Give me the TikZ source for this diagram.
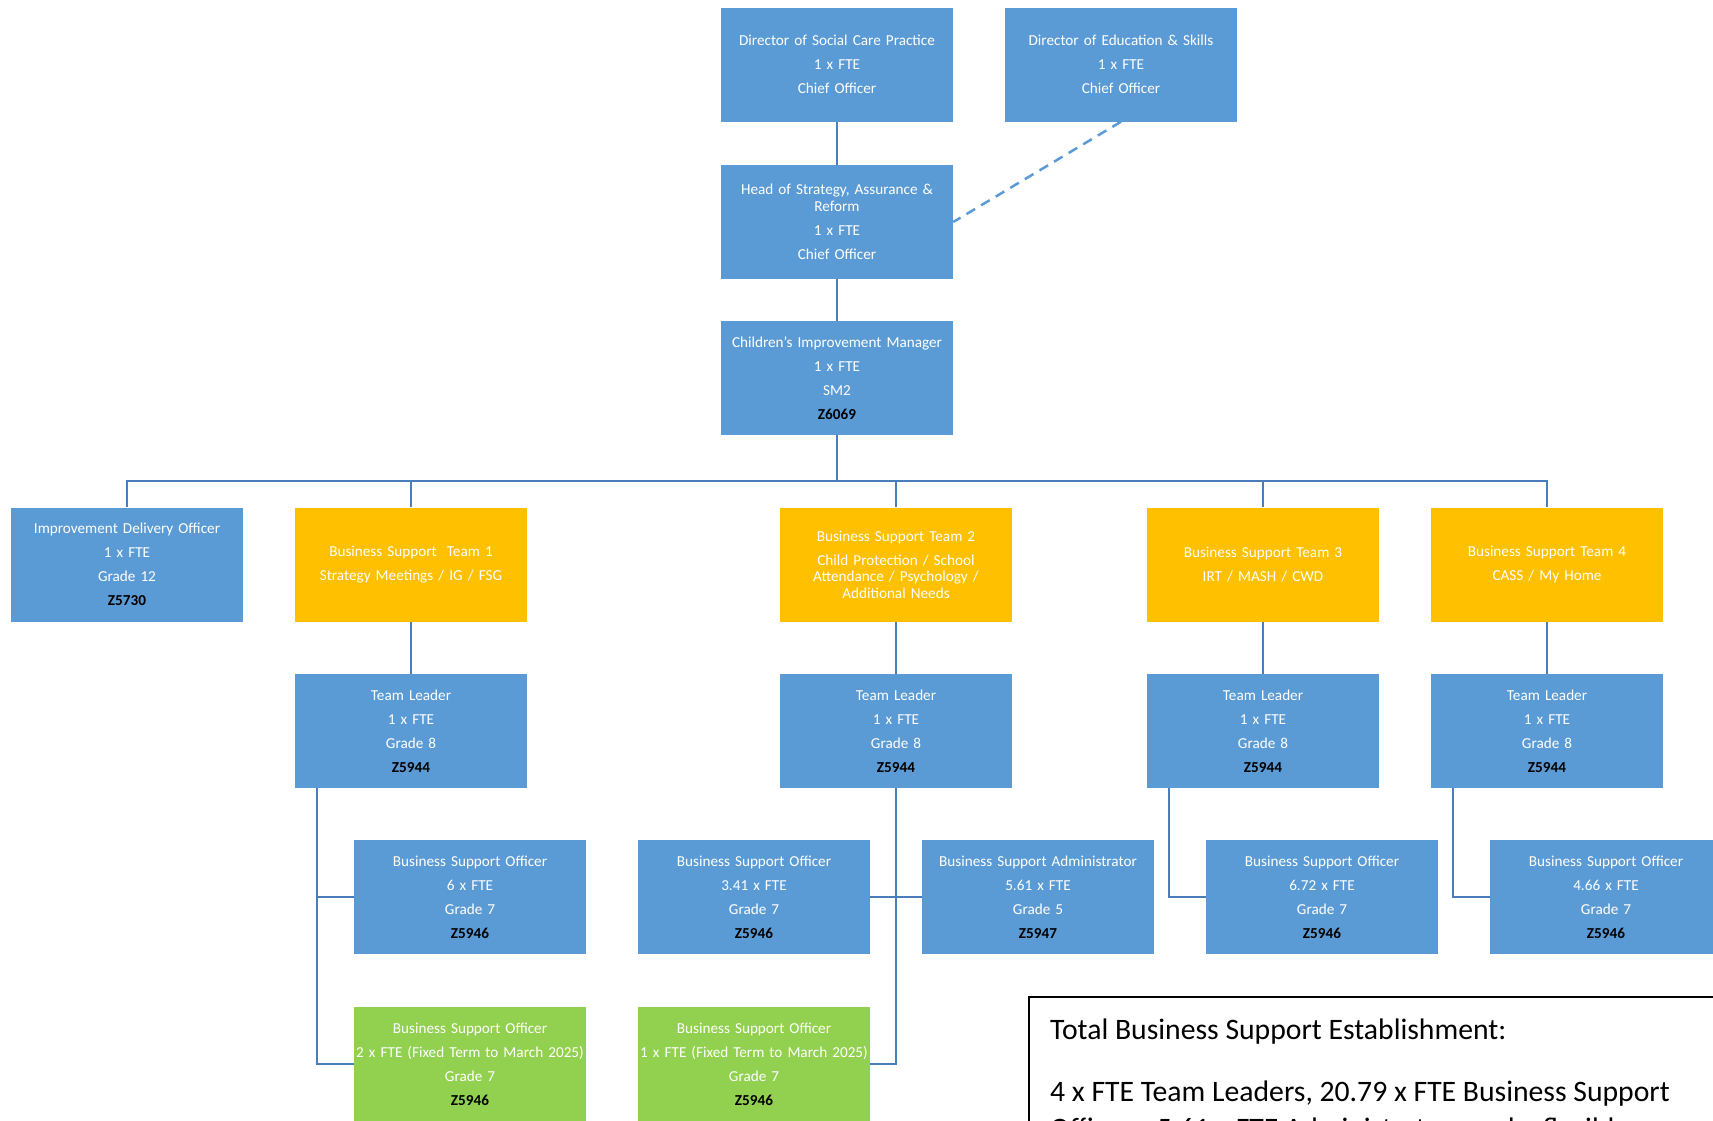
\documentclass[tikz,border=0pt]{standalone}
\usepackage{fontspec}
\setmainfont{Carlito}
\definecolor{boxblue}{HTML}{5B9BD5}
\definecolor{teamgold}{HTML}{FFC000}
\definecolor{tempgreen}{HTML}{92D050}
\definecolor{linkblue}{HTML}{4A7EBB}
\newcommand{\zcode}[1]{\textcolor{black}{\textbf{#1}}}

\begin{document}
\begin{tikzpicture}[x=1pt, y=-1pt,
  box/.style={rectangle, fill=boxblue, text=white, minimum width=232pt, minimum height=114pt,
    text width=232pt, inner sep=0pt, align=center, font=\fontsize{15.2}{16.5}\selectfont},
  team/.style={box, fill=teamgold},
  temp/.style={box, fill=tempgreen},
  link/.style={draw=linkblue, line width=2.5pt},
  totaltext/.style={anchor=base west, inner sep=0pt, font=\fontsize{29.7}{36}\selectfont}]
  \useasboundingbox (0, 0) rectangle (1713, 1120);
  \clip (0, 0) rectangle (1713, 1120);

  % top of the chart
  \node[box] (dsc) at (837, 64.5) {Director of Social Care Practice\\[7.5pt]1 x FTE\\[7.5pt]Chief Officer};
  \node[box] (doe) at (1121, 64.5) {Director of Education \& Skills\\[7.5pt]1 x FTE\\[7.5pt]Chief Officer};
  \node[box] (head) at (837, 222) {Head of Strategy, Assurance \&\\Reform\\[7.5pt]1 x FTE\\[7.5pt]Chief Officer};
  \node[box] (cim) at (837, 378) {Children's Improvement Manager\\[7.5pt]1 x FTE\\[7.5pt]SM2\\[7.5pt]\zcode{Z6069}};

  % teams
  \node[box] (ido) at (127, 564.5) {Improvement Delivery Officer\\[7.5pt]1 x FTE\\[7.5pt]Grade 12\\[7.5pt]\zcode{Z5730}};
  \node[team] (bst1) at (411, 564.5) {Business Support~ Team 1\\[7.5pt]Strategy Meetings / IG / FSG};
  \node[team] (bst2) at (896, 564.5) {Business Support Team 2\\[7.5pt]Child Protection / School\\Attendance / Psychology /\\Additional Needs};
  \node[team] (bst3) at (1263, 564.5) {Business Support Team 3\\[7.5pt]IRT / MASH / CWD};
  \node[team] (bst4) at (1547, 564.5) {Business Support Team 4\\[7.5pt]CASS / My Home};

  \foreach \t/\x in {1/411, 2/896, 3/1263, 4/1547}
    \node[box] (tl\t) at (\x, 731) {Team Leader\\[7.5pt]1 x FTE\\[7.5pt]Grade 8\\[7.5pt]\zcode{Z5944}};

  % officers
  \node[box] (bso1) at (470, 897) {Business Support Officer\\[7.5pt]6 x FTE\\[7.5pt]Grade 7\\[7.5pt]\zcode{Z5946}};
  \node[box] (bso2) at (754, 897) {Business Support Officer\\[7.5pt]3.41 x FTE\\[7.5pt]Grade 7\\[7.5pt]\zcode{Z5946}};
  \node[box] (bsa) at (1038, 897) {Business Support Administrator\\[7.5pt]5.61 x FTE\\[7.5pt]Grade 5\\[7.5pt]\zcode{Z5947}};
  \node[box] (bso3) at (1322, 897) {Business Support Officer\\[7.5pt]6.72 x FTE\\[7.5pt]Grade 7\\[7.5pt]\zcode{Z5946}};
  \node[box] (bso4) at (1606, 897) {Business Support Officer\\[7.5pt]4.66 x FTE\\[7.5pt]Grade 7\\[7.5pt]\zcode{Z5946}};
  \node[temp] (gr1) at (470, 1064) {Business Support Officer\\[7.5pt]2 x FTE (Fixed Term to March 2025)\\[7.5pt]Grade 7\\[7.5pt]\zcode{Z5946}};
  \node[temp] (gr2) at (754, 1064) {Business Support Officer\\[7.5pt]1 x FTE (Fixed Term to March 2025)\\[7.5pt]Grade 7\\[7.5pt]\zcode{Z5946}};

  % lines
  \draw[link] (dsc) -- (head);
  \draw[link] (head) -- (cim);
  \draw[draw=boxblue, line width=2.5pt, dash pattern=on 10pt off 7pt] (doe.south) -- (head.east);
  \coordinate (bus) at (0, 481);
  \draw[link] (cim.south) -- (cim.south |- bus);
  \draw[link] (ido.north) |- (bus -| bst4.north) -- (bst4.north);
  \foreach \t in {bst1, bst2, bst3}
    \draw[link] (\t.north) -- (\t.north |- bus);
  \foreach \t in {1, ..., 4}
    \draw[link] (bst\t) -- (tl\t);
  \draw[link] ([xshift=22pt]tl1.south west) |- (gr1.west);
  \draw[link] ([xshift=22pt]tl1.south west |- bso1.west) -- (bso1.west);
  \draw[link] (tl2.south) |- (gr2.east);
  \draw[link] (bso2.east) -- (bsa.west);
  \draw[link] ([xshift=22pt]tl3.south west) |- (bso3.west);
  \draw[link] ([xshift=22pt]tl4.south west) |- (bso4.west);

  % totals
  \draw[line width=2pt] (1730, 997) -- (1029, 997) -- (1029, 1140);
  \node[totaltext] (total) at (1050, 1039) {Total Business Support Establishment:};
  \node[totaltext] (totalfte) at (1050, 1101) {4 x FTE Team Leaders, 20.79 x FTE Business Support};
  \node[totaltext] (totalmore) at (1050, 1138) {Officers, 5.61 x FTE Administrators and a flexible};
\end{tikzpicture}
\end{document}
